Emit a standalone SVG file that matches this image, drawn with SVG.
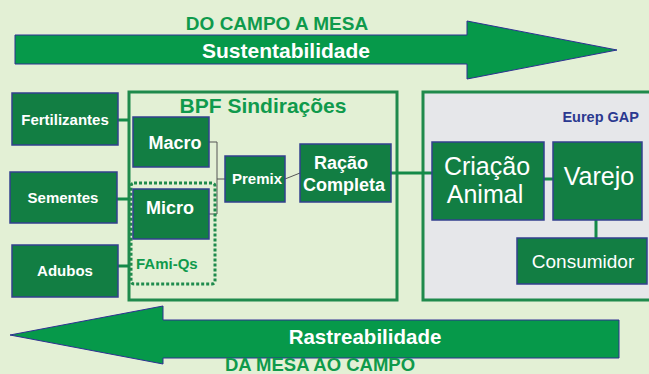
<svg xmlns="http://www.w3.org/2000/svg" width="649" height="374" viewBox="0 0 649 374">
<style>
.box{fill:#127e43;stroke:#33408f;stroke-width:1.5}
.bt{font-family:"Liberation Sans",Arial,sans-serif;font-weight:bold;fill:#fff;text-anchor:middle}
.rt{font-family:"Liberation Sans",Arial,sans-serif;fill:#fff;text-anchor:middle}
.gt{font-family:"Liberation Sans",Arial,sans-serif;font-weight:bold;fill:#0f9a4c;text-anchor:middle}
.arrow{fill:#06994a;stroke:#2e3192;stroke-width:1}
.thin{fill:none;stroke:#555;stroke-width:1}
.thick{fill:none;stroke:#148a48;stroke-width:3}
.frame{stroke:#1f8a4c;stroke-width:3}
</style>
<rect width="649" height="374" fill="#e3f0d5"/>
<g id="arrows">
<polygon class="arrow" points="15,35 467,35 467,21 617,50 467,79 467,64 15,64"/>
<text class="gt" x="277" y="30" font-size="19">DO CAMPO A MESA</text>
<text class="bt" x="286" y="58" font-size="21">Sustentabilidade</text>
<polygon class="arrow" points="619,320 163,320 163,306 10,335 163,364 163,358 619,358"/>
<text class="bt" x="365" y="344" font-size="20.5">Rastreabilidade</text>
<text class="gt" x="320" y="371" font-size="18.5">DA MESA AO CAMPO</text>
</g>
<g id="bpf">
<rect class="frame" x="129" y="92" width="268" height="208" fill="none"/>
<text class="gt" x="263" y="113" font-size="21">BPF Sindirações</text>
</g>
<g id="eurep">
<rect class="frame" x="423" y="92" width="230" height="208" fill="#e6e7ea"/>
<text x="639" y="122" font-size="14.5" font-weight="bold" fill="#2b3990" text-anchor="end" font-family="Liberation Sans, Arial, sans-serif">Eurep GAP</text>
</g>
<g id="connectors">
<path class="thick" d="M118,120H129M117,199H129M118,266H129"/>
<path class="thin" d="M209,142H217V214H209M217,179H225M285,179L300,173"/>
<path class="thick" d="M391,173H434M544,179H553M596,220V238"/>
</g>
<g id="famiqs">
<rect x="131" y="183" width="84" height="101" rx="3" fill="none" stroke="#1f8a4c" stroke-width="3" stroke-dasharray="3,2"/>
<text class="gt" x="136" y="269" font-size="15" style="text-anchor:start">FAmi-Qs</text>
</g>
<g id="fertilizantes">
<rect class="box" x="12" y="93" width="106" height="52"/>
<text class="bt" x="65" y="125" font-size="15">Fertilizantes</text>
</g>
<g id="sementes">
<rect class="box" x="10" y="172" width="107" height="51"/>
<text class="bt" x="63" y="203" font-size="15">Sementes</text>
</g>
<g id="adubos">
<rect class="box" x="12" y="245" width="106" height="52"/>
<text class="bt" x="65" y="276" font-size="15">Adubos</text>
</g>
<g id="macro">
<rect class="box" x="133" y="117" width="76" height="50"/>
<text class="bt" x="175" y="149" font-size="18">Macro</text>
</g>
<g id="micro">
<rect class="box" x="133" y="189" width="76" height="50"/>
<text class="bt" x="170" y="214" font-size="18">Micro</text>
</g>
<g id="premix">
<rect class="box" x="225" y="156" width="60" height="46"/>
<text class="bt" x="257" y="184" font-size="15">Premix</text>
</g>
<g id="racao">
<rect class="box" x="300" y="144" width="91" height="58"/>
<text class="bt" x="341" y="169" font-size="18">Ração</text>
<text class="bt" x="344" y="191" font-size="18">Completa</text>
</g>
<g id="criacao">
<rect class="box" x="432" y="142" width="112" height="78"/>
<text class="rt" x="487" y="175" font-size="25">Criação</text>
<text class="rt" x="485" y="203" font-size="25">Animal</text>
</g>
<g id="varejo">
<rect class="box" x="553" y="142" width="89" height="78"/>
<text class="rt" x="599" y="185" font-size="25">Varejo</text>
</g>
<g id="consumidor">
<rect class="box" x="517" y="238" width="130" height="46"/>
<text class="rt" x="583" y="268" font-size="19">Consumidor</text>
</g>
</svg>
